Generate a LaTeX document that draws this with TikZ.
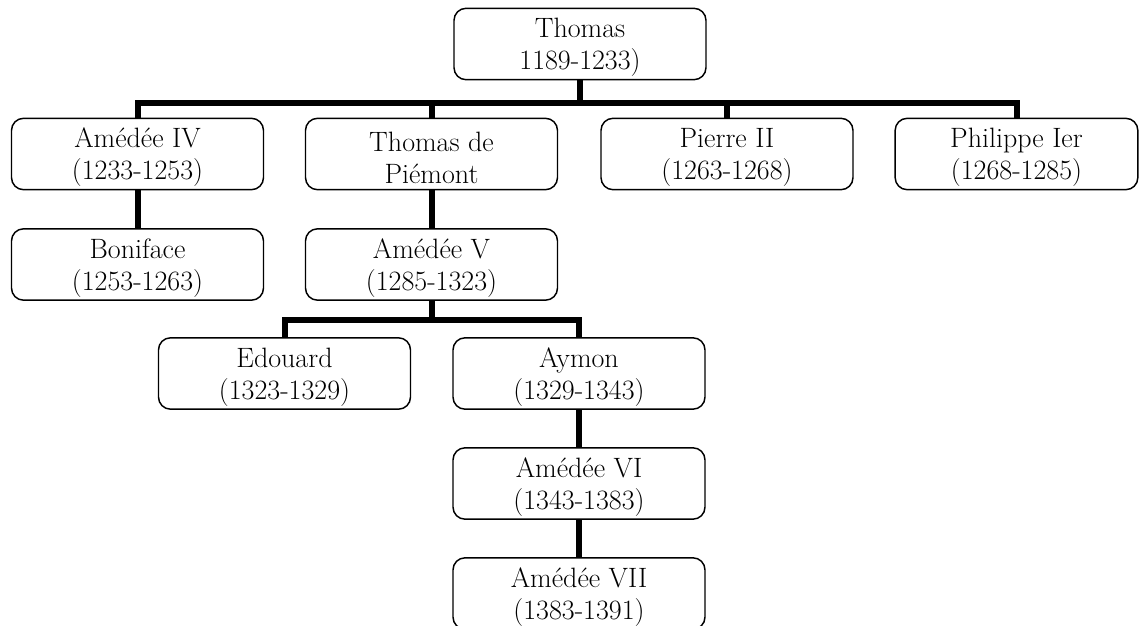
\documentclass[tikz,border=0pt]{standalone}
\usetikzlibrary{positioning}
\newcommand\tstrut{\rule{0pt}{20pt}}
\begin{document}
\begin{tikzpicture}[x=0.75pt,y=-0.75pt,
  person/.style={draw, line width=1.1pt, rounded corners=9pt, minimum width=189pt, minimum height=53.5pt, inner sep=0pt, align=center, font=\fontsize{21}{24}\selectfont},
  conn/.style={line width=4.5pt}]
\useasboundingbox (0,0) rectangle (1139,625);
\node[person] (thomas) at (580,44) {\tstrut Thomas\\1189-1233)};
\node[person] (a4) at (137.5,154) {\tstrut Amédée IV\\(1233-1253)};
\node[person] (tp) at (431.5,154) {\tstrut Thomas de\\Piémont};
\node[person] (p2) at (727,154) {\tstrut Pierre II\\(1263-1268)};
\node[person, minimum width=182pt] (ph) at (1016.5,154) {\tstrut Philippe Ier\\(1268-1285)};
\node[person] (bon) at (137.5,264.5) {\tstrut Boniface\\(1253-1263)};
\node[person] (a5) at (431.5,264.5) {\tstrut Amédée V\\(1285-1323)};
\node[person] (ed) at (284.5,373.5) {\tstrut Edouard\\(1323-1329)};
\node[person] (ay) at (579,373.5) {\tstrut Aymon\\(1329-1343)};
\node[person] (a6) at (579,483.5) {\tstrut Amédée VI\\(1343-1383)};
\node[person] (a7) at (579,593.5) {\tstrut Amédée VII\\(1383-1391)};
\coordinate (b1) at (580,103);
\coordinate (b2) at (431.5,320);
\draw[conn] (thomas.south) -- (b1) -| (a4.north);
\draw[conn] (b1) -| (tp.north);
\draw[conn] (b1) -| (p2.north);
\draw[conn] (b1) -| (ph.north);
\draw[conn] (a4.south) -- (bon.north);
\draw[conn] (tp.south) -- (a5.north);
\draw[conn] (a5.south) -- (b2) -| (ed.north);
\draw[conn] (b2) -| (ay.north);
\draw[conn] (ay.south) -- (a6.north);
\draw[conn] (a6.south) -- (a7.north);
\end{tikzpicture}
\end{document}
